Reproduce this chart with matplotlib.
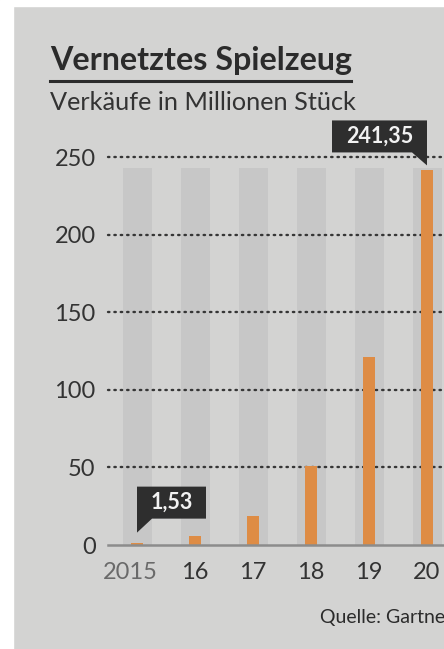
import matplotlib
matplotlib.use("Agg")
import matplotlib.pyplot as plt
from matplotlib.patches import Rectangle, Polygon
from matplotlib.lines import Line2D
from matplotlib.transforms import IdentityTransform, ScaledTranslation

# data
years = ["2015", "16", "17", "18", "19", "20"]
sales = [1.53, 5.8, 18.5, 51.0, 121.0, 241.35]
yticks = [0, 50, 100, 150, 200, 250]
callouts = {0: "1,53", 5: "241,35"}

W, H = 444, 649
paper = "#d3d3d2"
column = "#c7c7c7"
orange = "#de8c45"
ink = "#2b2b2b"
font = "Lato"

fig = plt.figure(figsize=(W / 100, H / 100), dpi=100, facecolor=paper)

# white scan border at left and top
fig.patches.append(Rectangle((0, 0), 13 / W, 1, transform=fig.transFigure, color="white", zorder=0))
fig.patches.append(Rectangle((0, 1 - 6 / H), 1, 6 / H, transform=fig.transFigure, color="white", zorder=0))

def fx(px):
    return px / W

def fy(py):
    return 1 - py / H

fig.text(fx(50), fy(70), "Vernetztes Spielzeug", fontsize=23.2, fontweight="bold",
         color=ink, family=font, ha="left", va="baseline")
fig.add_artist(Line2D([fx(50), fx(351)], [fy(81), fy(81)], color=ink, lw=2.2))
fig.text(fx(50), fy(110), "Verkäufe in Millionen Stück", fontsize=18.2,
         color="#333333", family=font, ha="left", va="baseline")
# the scan is cropped here, so the source line runs off the right edge
fig.text(fx(320), fy(623), "Quelle: Gartner", fontsize=14,
         color=ink, family=font, ha="left", va="baseline")

# axes run past the right edge, like the cropped scan
ax = fig.add_axes([fx(108), (H - 545) / H, 348 / W, 388 / H])
ax.set_facecolor("none")
ax.set_xlim(-0.5, 5.5)
ax.set_ylim(0, 250)
for s in ax.spines.values():
    s.set_visible(False)

x = list(range(len(years)))
ax.bar(x, [243] * len(x), width=0.5, color=column, zorder=1, clip_on=False)
for v in yticks[1:]:
    ax.axhline(v, color="#363636", lw=1.7, linestyle=(0, (0.6, 2.1)),
               dash_capstyle="round", zorder=2, clip_on=False)
ax.bar(x, sales, width=0.21, color=orange, zorder=3)
ax.axhline(0, color="#8c8c8c", lw=1.8, zorder=4, clip_on=False)

ax.set_yticks(yticks)
ax.set_yticklabels([str(v) for v in yticks])
ax.set_xticks(x)
ax.set_xticklabels(years)
ax.tick_params(length=0)
ax.tick_params(axis="y", pad=9, labelsize=17, labelcolor="#333333")
ax.tick_params(axis="x", pad=12, labelsize=17, labelcolor="#333333")
for lab in ax.get_xticklabels() + ax.get_yticklabels():
    lab.set_family(font)
first = ax.get_xticklabels()[0]
first.set_color("#6a6a6a")
first.set_transform(first.get_transform() + ScaledTranslation(-0.07, 0, fig.dpi_scale_trans))

# speech-bubble callouts, drawn in pixel offsets from the bar top
fig.canvas.draw()
for i, label in callouts.items():
    bx, by = ax.transData.transform((x[i], sales[i]))
    if i == 0:
        pts = [(0, 10), (15, 24), (69, 24), (69, 56), (0, 56)]
        tx, ty = 35, 40
    else:
        pts = [(-95, 18), (-15, 18), (0, 5), (0, 50), (-95, 50)]
        tx, ty = -47, 34
    poly = Polygon([(bx + dx, by + dy) for dx, dy in pts], closed=True,
                   transform=IdentityTransform(), facecolor="#2e2e2e",
                   edgecolor="none", zorder=6, clip_on=False)
    fig.patches.append(poly)
    fig.text(fx(bx + tx), (by + ty) / H, label, color="#f2f2f2", fontsize=15.5,
             fontweight="bold", family=font, ha="center", va="center", zorder=7)

fig.savefig("out.png", dpi=100, facecolor=paper)
